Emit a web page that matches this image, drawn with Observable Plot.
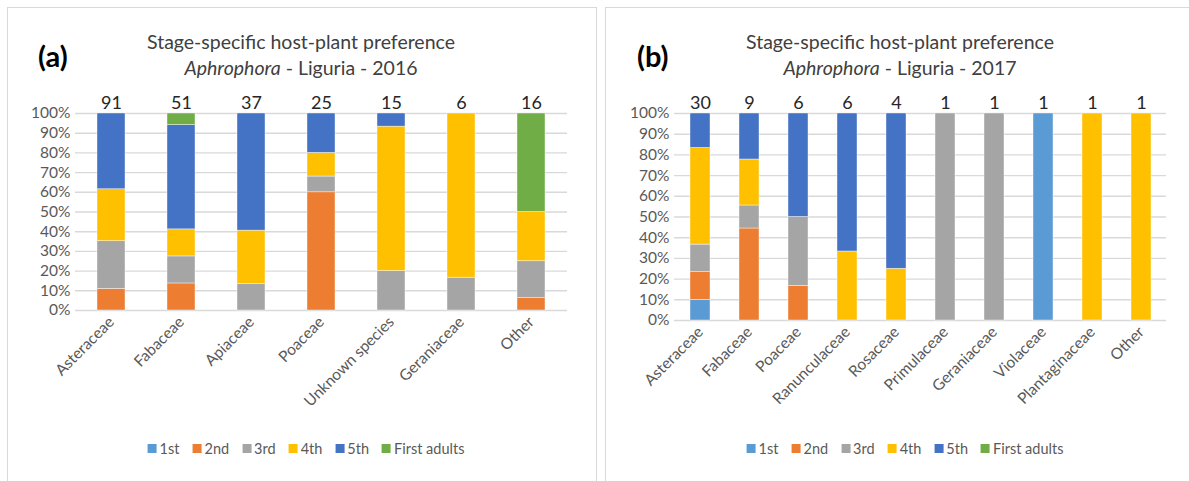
<!DOCTYPE html>
<html>
<head>
<meta charset="utf-8">
<script src="https://cdn.jsdelivr.net/npm/d3@7"></script>
<script src="https://cdn.jsdelivr.net/npm/@observablehq/plot@0.6"></script>
<style>
  html, body { margin: 0; padding: 0; background: #fff; }
  #page { position: relative; width: 1189px; height: 481px; overflow: hidden; font-family: Lato, "Open Sans", sans-serif; }
  .panel { position: absolute; top: 7px; height: 520px; border: 1.5px solid #d9d9d9; box-sizing: border-box; }
  .tag { position: absolute; font-weight: bold; font-size: 29px; color: #000; line-height: 1; }
  .title { position: absolute; width: 440px; text-align: center; font-size: 19.5px; color: #404040; line-height: 26px; }
  .chart { position: absolute; top: 0; }
  .legend { position: absolute; top: 440px; display: flex; gap: 13px; font-size: 14.5px; color: #595959; transform: translateX(-50%); white-space: nowrap; }
  .legend span.item { display: flex; align-items: center; gap: 3px; }
  .legend span.sw { width: 9px; height: 9px; display: inline-block; }
</style>
</head>
<body>
<div id="page">
  <div class="panel" style="left:7px; width:590px;"></div>
  <div class="panel" style="left:605px; width:600px;"></div>

  <div class="tag" style="left:38px; top:41px;">(a)</div>
  <div class="title" style="left:81px; top:29px;">Stage-specific host-plant preference<br><i>Aphrophora</i> - Liguria - 2016</div>

  <div class="tag" style="left:637px; top:41px;">(b)</div>
  <div class="title" style="left:680px; top:29px;">Stage-specific host-plant preference<br><i>Aphrophora</i> - Liguria - 2017</div>

  <div id="chartA" class="chart" style="left:0px;"></div>
  <div id="chartB" class="chart" style="left:600px;"></div>

  <div id="legendA" class="legend" style="left:306px;"></div>
  <div id="legendB" class="legend" style="left:905px;"></div>
</div>
<script>
// Larval stages, bottom to top of each stacked bar
const stages = ["1st", "2nd", "3rd", "4th", "5th", "First adults"];
const stageColors = ["#5b9bd5", "#ed7d31", "#a5a5a5", "#ffc000", "#4472c4", "#70ad47"];

// 2016 — number of individuals per host-plant family and stage
const families2016 = ["Asteraceae", "Fabaceae", "Apiaceae", "Poaceae", "Unknown species", "Geraniaceae", "Other"];
const first2016  = [0, 0, 0, 0, 0, 0, 0];
const second2016 = [10, 7, 0, 15, 0, 0, 1];
const third2016  = [22, 7, 5, 2, 3, 1, 3];
const fourth2016 = [24, 7, 10, 3, 11, 5, 4];
const fifth2016  = [35, 27, 22, 5, 1, 0, 0];
const adults2016 = [0, 3, 0, 0, 0, 0, 8];

// 2017 — number of individuals per host-plant family and stage
const families2017 = ["Asteraceae", "Fabaceae", "Poaceae", "Ranunculaceae", "Rosaceae", "Primulaceae", "Geraniaceae", "Violaceae", "Plantaginaceae", "Other"];
const first2017  = [3, 0, 0, 0, 0, 0, 0, 1, 0, 0];
const second2017 = [4, 4, 1, 0, 0, 0, 0, 0, 0, 0];
const third2017  = [4, 1, 2, 0, 0, 1, 1, 0, 0, 0];
const fourth2017 = [14, 2, 0, 2, 1, 0, 0, 0, 1, 1];
const fifth2017  = [5, 2, 3, 4, 3, 0, 0, 0, 0, 0];
const adults2017 = [0, 0, 0, 0, 0, 0, 0, 0, 0, 0];

const yTicks = d3.range(0, 11).map(i => i / 10);

function toRows(families, perStage) {
  return stages.flatMap((stage, i) =>
    families.map((family, j) => ({family, stage, count: perStage[i][j]}))
  ).filter(d => d.count > 0);
}

function totals(families, perStage) {
  return families.map((family, j) => ({family, n: d3.sum(perStage, s => s[j])}));
}

function chart(families, perStage, opts) {
  const rows = toRows(families, perStage);
  return Plot.plot({
    width: opts.width,
    height: 440,
    marginLeft: opts.marginLeft,
    marginRight: opts.marginRight,
    marginTop: 113,
    marginBottom: opts.marginBottom,
    style: {fontFamily: "Lato, 'Open Sans', sans-serif", fontSize: "15.5px", color: "#595959", background: "transparent", overflow: "visible"},
    x: {domain: families, paddingInner: 0.6, paddingOuter: 0.3, label: null, tickSize: 0, tickPadding: 9, tickRotate: -45},
    y: {domain: [0, 1], ticks: yTicks, tickFormat: d3.format(".0%"), label: null, tickSize: 0, tickPadding: 5},
    color: {domain: stages, range: stageColors},
    marks: [
      Plot.ruleY(yTicks, {stroke: "#d9d9d9", strokeWidth: 1.4}),
      Plot.barY(rows, Plot.stackY({
        offset: "normalize", order: stages,
        x: "family", y: "count", fill: "stage",
        stroke: "#ffffff", strokeWidth: 0.6, strokeOpacity: 0.7
      })),
      Plot.text(totals(families, perStage), {x: "family", y: 1, text: "n", dy: -10, fontSize: 18, fill: "#262626"})
    ]
  });
}

function legend(el) {
  stages.forEach((s, i) => {
    const item = document.createElement("span");
    item.className = "item";
    item.innerHTML = `<span class="sw" style="background:${stageColors[i]}"></span>${s}`;
    el.appendChild(item);
  });
}

document.getElementById("chartA").appendChild(
  chart(families2016, [first2016, second2016, third2016, fourth2016, fifth2016, adults2016],
        {width: 597, marginLeft: 75, marginRight: 30, marginBottom: 130})
);
document.getElementById("chartB").appendChild(
  chart(families2017, [first2017, second2017, third2017, fourth2017, fifth2017, adults2017],
        {width: 589, marginLeft: 74, marginRight: 23, marginBottom: 120})
);
legend(document.getElementById("legendA"));
legend(document.getElementById("legendB"));
</script>
</body>
</html>
